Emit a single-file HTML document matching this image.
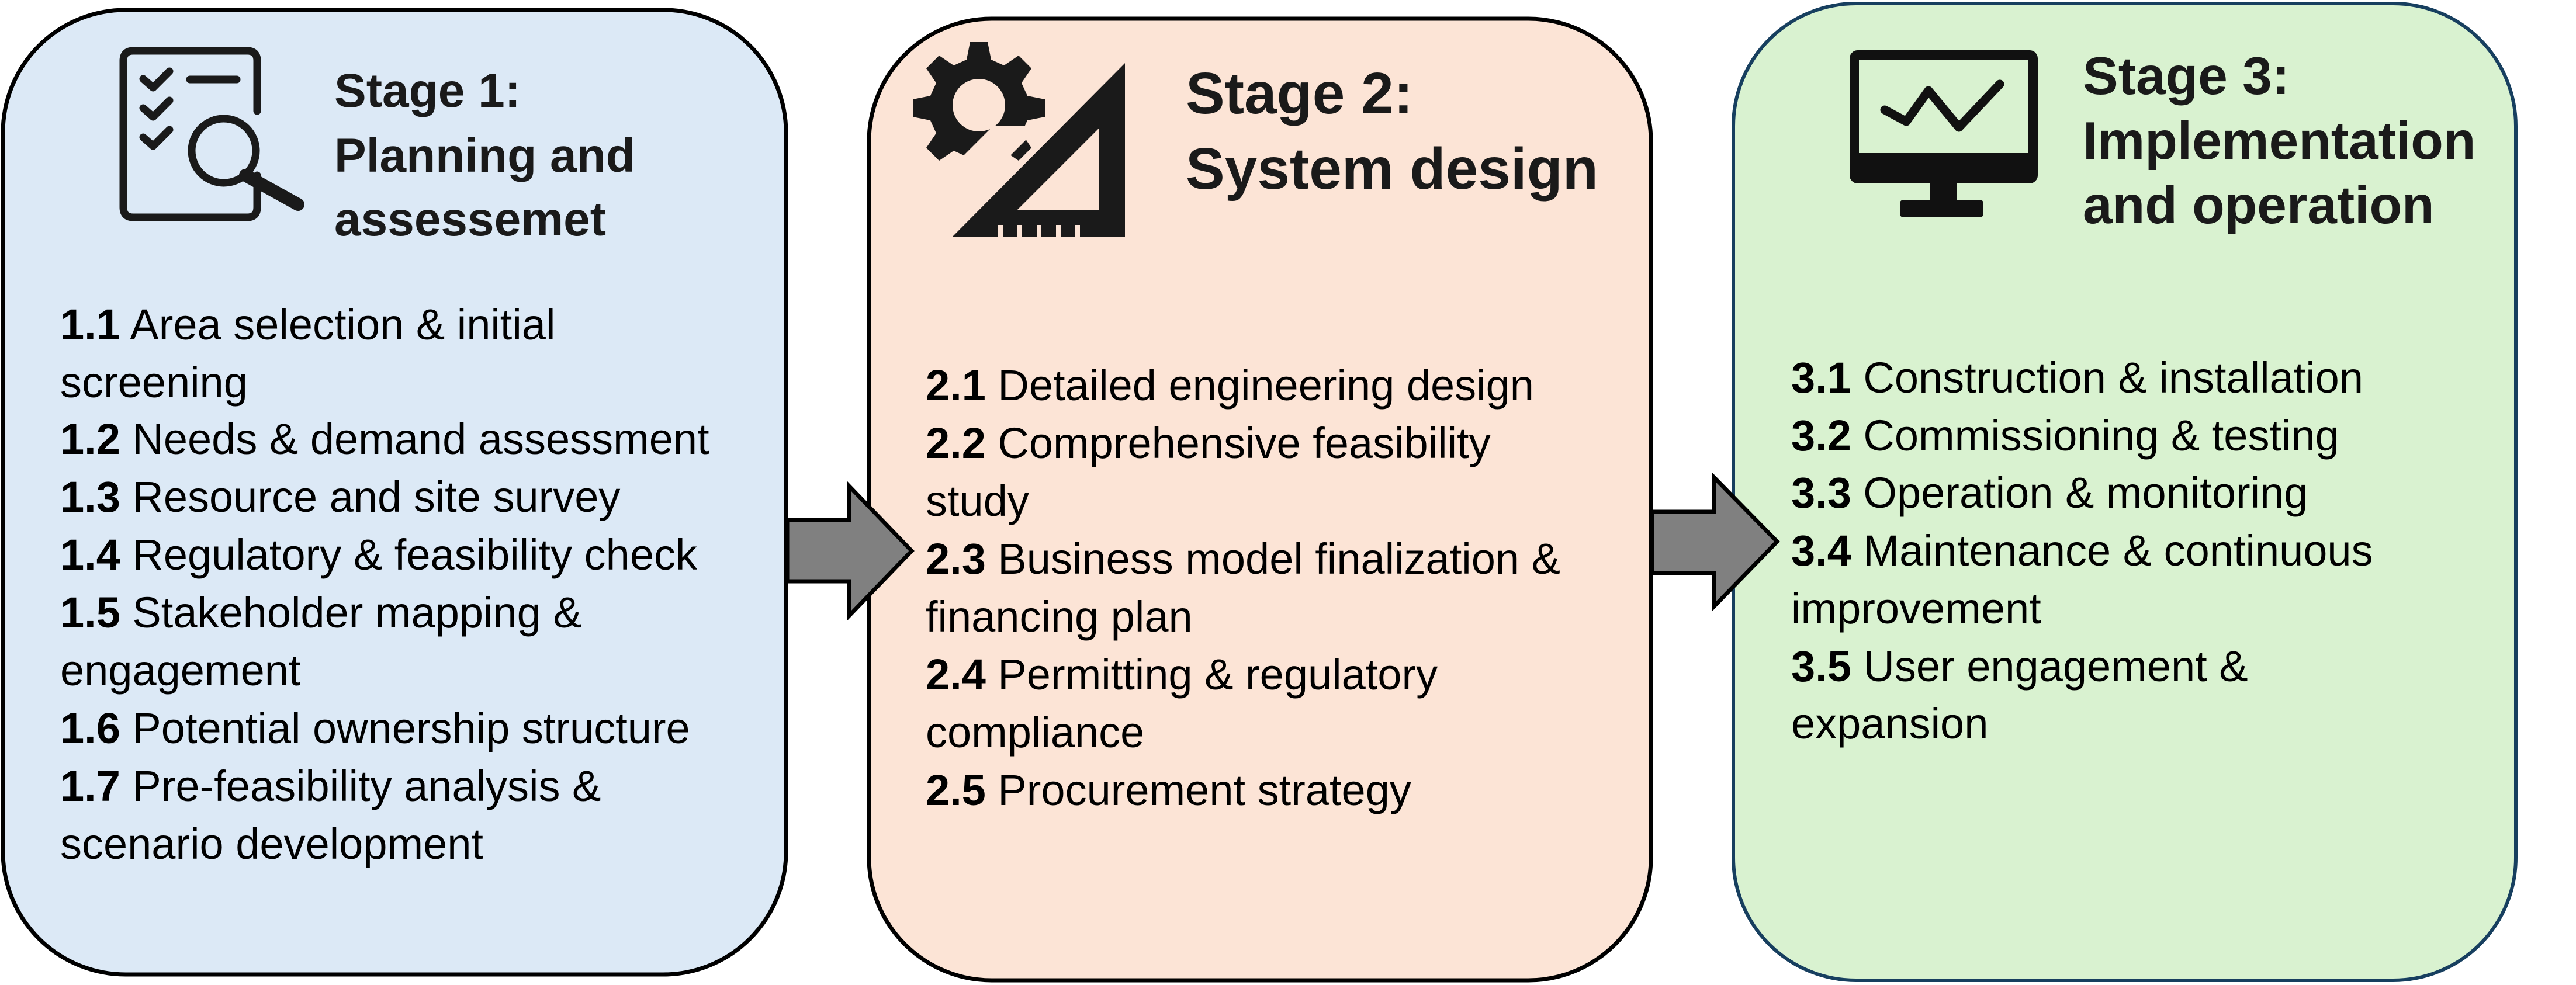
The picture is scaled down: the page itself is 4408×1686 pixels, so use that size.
<!DOCTYPE html>
<html><head><meta charset="utf-8"><style>
html,body{margin:0;padding:0;background:#fff;}
svg{display:block;}
.h{font-family:"Liberation Sans",Arial,sans-serif;font-weight:bold;fill:#1a1a1a;}
.b{font-family:"Liberation Sans",Arial,sans-serif;font-size:74px;fill:#000;}
.b tspan.n{font-weight:bold;}
</style></head><body>
<svg width="4408" height="1686" viewBox="0 0 4408 1686" xmlns="http://www.w3.org/2000/svg">
<!-- boxes -->
<rect x="5" y="17" width="1340" height="1651" rx="210" ry="210" fill="#dce9f6" stroke="#000" stroke-width="7"/>
<rect x="1487" y="32" width="1338" height="1646" rx="210" ry="210" fill="#fce4d6" stroke="#000" stroke-width="7"/>
<rect x="2966" y="6" width="1339" height="1672" rx="210" ry="210" fill="#d9f2d0" stroke="#173f5f" stroke-width="6"/>
<!-- arrows -->
<polygon points="1347,890 1453,890 1453,832 1560,943 1453,1054 1453,995 1347,995" fill="#808080" stroke="#000" stroke-width="7" stroke-linejoin="miter"/>
<polygon points="2827,876 2933,876 2933,817 3041,927 2933,1038 2933,981 2827,981" fill="#808080" stroke="#000" stroke-width="7" stroke-linejoin="miter"/>

<!-- Stage 1 icon -->
<g fill="none" stroke="#1a1a1a" stroke-width="13" stroke-linecap="round" stroke-linejoin="round">
<path d="M440,300 L440,355 Q440,372 423,372 L228,372 Q211,372 211,355 L211,104 Q211,87 228,87 L423,87 Q440,87 440,104 L440,190"/>
<polyline points="245,135 262,150 290,122"/>
<polyline points="245,185 262,200 290,172"/>
<polyline points="245,235 262,250 290,222"/>
<line x1="325" y1="136" x2="405" y2="136"/>
<circle cx="383" cy="258" r="55"/>
<line x1="420" y1="300" x2="510" y2="350" stroke-width="22"/>
</g>

<!-- Stage 2 icon -->
<g fill="#1a1a1a">
<path d="M1660,72 h30 l6,30 l22,10 l25,-17 l22,22 l-17,25 l10,22 l30,6 v30 l-30,6 l-10,22 l17,25 l-22,22 l-25,-17 l-22,10 l-6,30 h-30 l-6,-30 l-22,-10 l-25,17 l-22,-22 l17,-25 l-10,-22 l-30,-6 v-30 l30,-6 l10,-22 l-17,-25 l22,-22 l25,17 l22,-10 z"/>
</g>
<circle cx="1675" cy="180" r="45" fill="#fce4d6"/>
<polygon points="1700,215 1780,215 1650,345 1610,305" fill="#fce4d6"/>
<path d="M1925,108 L1925,405 L1630,405 Z M1880,220 L1880,360 L1740,360 Z" fill="#1a1a1a" fill-rule="evenodd"/>
<g stroke="#fce4d6" stroke-width="8">
<line x1="1712" y1="405" x2="1712" y2="385"/><line x1="1745" y1="405" x2="1745" y2="385"/>
<line x1="1778" y1="405" x2="1778" y2="385"/><line x1="1811" y1="405" x2="1811" y2="385"/>
<line x1="1844" y1="405" x2="1844" y2="385"/>
</g>

<!-- Stage 3 icon -->
<rect x="3173" y="94" width="306" height="212" rx="6" fill="none" stroke="#111" stroke-width="16"/>
<rect x="3171" y="262" width="310" height="46" fill="#111"/>
<rect x="3303" y="306" width="46" height="40" fill="#111"/>
<rect x="3251" y="342" width="143" height="30" rx="6" fill="#111"/>
<polyline points="3225,188 3262,208 3300,155 3352,218 3422,144" fill="none" stroke="#111" stroke-width="15" stroke-linecap="round" stroke-linejoin="round"/>

<!-- headings -->
<text class="h" font-size="82"><tspan x="572" y="183">Stage 1:</tspan><tspan x="572" y="294">Planning and</tspan><tspan x="572" y="403">assessemet</tspan></text>
<text class="h" font-size="100"><tspan x="2029" y="194">Stage 2:</tspan><tspan x="2029" y="323">System design</tspan></text>
<text class="h" font-size="91"><tspan x="3564" y="161">Stage 3:</tspan><tspan x="3564" y="272">Implementation</tspan><tspan x="3564" y="382">and operation</tspan></text>

<!-- body stage 1 -->
<text class="b">
<tspan x="103" y="581"><tspan class="n">1.1</tspan> Area selection &amp; initial</tspan>
<tspan x="103" y="680">screening</tspan>
<tspan x="103" y="777"><tspan class="n">1.2</tspan> Needs &amp; demand assessment</tspan>
<tspan x="103" y="876"><tspan class="n">1.3</tspan> Resource and site survey</tspan>
<tspan x="103" y="975"><tspan class="n">1.4</tspan> Regulatory &amp; feasibility check</tspan>
<tspan x="103" y="1074"><tspan class="n">1.5</tspan> Stakeholder mapping &amp;</tspan>
<tspan x="103" y="1173">engagement</tspan>
<tspan x="103" y="1272"><tspan class="n">1.6</tspan> Potential ownership structure</tspan>
<tspan x="103" y="1371"><tspan class="n">1.7</tspan> Pre-feasibility analysis &amp;</tspan>
<tspan x="103" y="1470">scenario development</tspan>
</text>
<!-- body stage 2 -->
<text class="b">
<tspan x="1584" y="685"><tspan class="n">2.1</tspan> Detailed engineering design</tspan>
<tspan x="1584" y="784"><tspan class="n">2.2</tspan> Comprehensive feasibility</tspan>
<tspan x="1584" y="883">study</tspan>
<tspan x="1584" y="982"><tspan class="n">2.3</tspan> Business model finalization &amp;</tspan>
<tspan x="1584" y="1081">financing plan</tspan>
<tspan x="1584" y="1180"><tspan class="n">2.4</tspan> Permitting &amp; regulatory</tspan>
<tspan x="1584" y="1279">compliance</tspan>
<tspan x="1584" y="1378"><tspan class="n">2.5</tspan> Procurement strategy</tspan>
</text>
<!-- body stage 3 -->
<text class="b">
<tspan x="3065" y="672"><tspan class="n">3.1</tspan> Construction &amp; installation</tspan>
<tspan x="3065" y="771"><tspan class="n">3.2</tspan> Commissioning &amp; testing</tspan>
<tspan x="3065" y="869"><tspan class="n">3.3</tspan> Operation &amp; monitoring</tspan>
<tspan x="3065" y="968"><tspan class="n">3.4</tspan> Maintenance &amp; continuous</tspan>
<tspan x="3065" y="1067">improvement</tspan>
<tspan x="3065" y="1166"><tspan class="n">3.5</tspan> User engagement &amp;</tspan>
<tspan x="3065" y="1264">expansion</tspan>
</text>
</svg>
</body></html>
